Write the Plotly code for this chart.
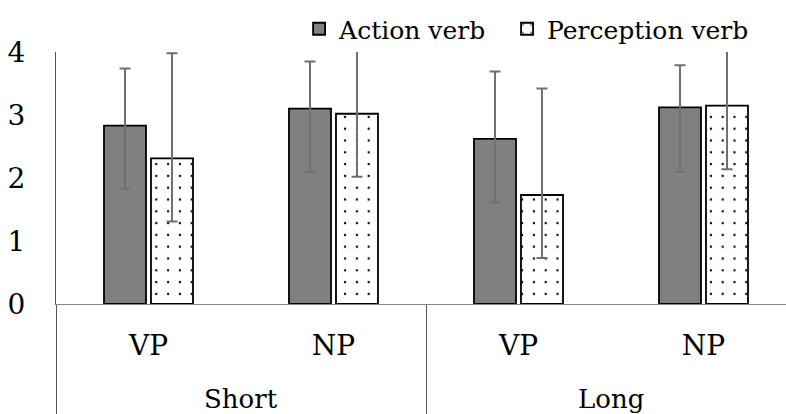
import plotly.graph_objects as go

groups = ["Short", "Short", "Long", "Long"]
phrases = ["VP", "NP", "VP", "NP"]

action_mean = [2.83, 3.10, 2.62, 3.12]
action_err_plus = [0.91, 0.75, 1.07, 0.67]
action_err_minus = [1.00, 1.00, 1.01, 1.02]

perception_mean = [2.31, 3.02, 1.73, 3.15]
perception_err_plus = [1.67, 1.30, 1.69, 1.25]
perception_err_minus = [1.00, 1.00, 1.00, 1.01]

y_ticks = [0, 1, 2, 3, 4]

SERIF = "DejaVu Serif"
ERR_COLOR = "#707070"

xpos = list(range(len(phrases)))
group_names = []
group_centers = []
for name in dict.fromkeys(groups):
    idx = [i for i, g in enumerate(groups) if g == name]
    group_names.append(name)
    group_centers.append((idx[0] + idx[-1]) / 2)
group_edges = [-0.5] + [i + 0.5 for i in range(len(groups) - 1) if groups[i] != groups[i + 1]] + [len(groups) - 0.5]
x_range = [-0.5, len(groups) - 0.5 - 10 / 185]

fig = go.Figure()
fig.add_trace(go.Bar(
    name="Action verb\u00a0\u00a0",
    x=xpos, y=action_mean,
    marker=dict(color="#808080", line=dict(color="black", width=1.8)),
    error_y=dict(type="data", symmetric=False, array=action_err_plus,
                 arrayminus=action_err_minus, color=ERR_COLOR,
                 thickness=2, width=5.5),
))
fig.add_trace(go.Bar(
    name="Perception verb",
    x=xpos, y=perception_mean,
    marker=dict(color="white", line=dict(color="black", width=1.8),
                pattern=dict(shape=".", fgcolor="black", bgcolor="white",
                             fgopacity=1, size=11.8, solidity=0.03)),
    error_y=dict(type="data", symmetric=False, array=perception_err_plus,
                 arrayminus=perception_err_minus, color=ERR_COLOR,
                 thickness=2, width=5.5),
))

for name, cx in zip(group_names, group_centers):
    fig.add_annotation(x=cx, xref="x", y=-95 / 252, yref="paper",
                       text=name, showarrow=False, yanchor="middle",
                       font=dict(family=SERIF, size=26, color="black"))

fig.update_layout(
    width=786, height=414,
    margin=dict(l=56, r=0, t=52, b=110),
    paper_bgcolor="white", plot_bgcolor="white",
    font=dict(family=SERIF, size=28, color="black"),
    barmode="group", bargap=0.492, bargroupgap=0.106,
    showlegend=True,
    legend=dict(orientation="h", x=0.333, xanchor="left", y=1.0, yanchor="bottom",
                font=dict(family=SERIF, size=25), bgcolor="rgba(0,0,0,0)",
                traceorder="normal"),
    xaxis=dict(
        range=x_range, tickmode="array", tickvals=xpos, ticktext=phrases,
        showline=True, linecolor="#888888", linewidth=1,
        ticks="", showgrid=False, zeroline=False, ticklabelstandoff=16,
        tickfont=dict(family=SERIF, size=28, color="black"),
        minor=dict(tickmode="array", tickvals=group_edges, ticks="outside",
                   ticklen=110, tickcolor="#555555", tickwidth=1, showgrid=False),
    ),
    yaxis=dict(
        range=[0, 4], tickvals=y_ticks,
        showline=True, linecolor="#555555", linewidth=1,
        showgrid=False, zeroline=False, ticks="",
        ticklabelstandoff=24,
        tickfont=dict(family=SERIF, size=28, color="black"),
    ),
)

fig.write_html("out.html")
